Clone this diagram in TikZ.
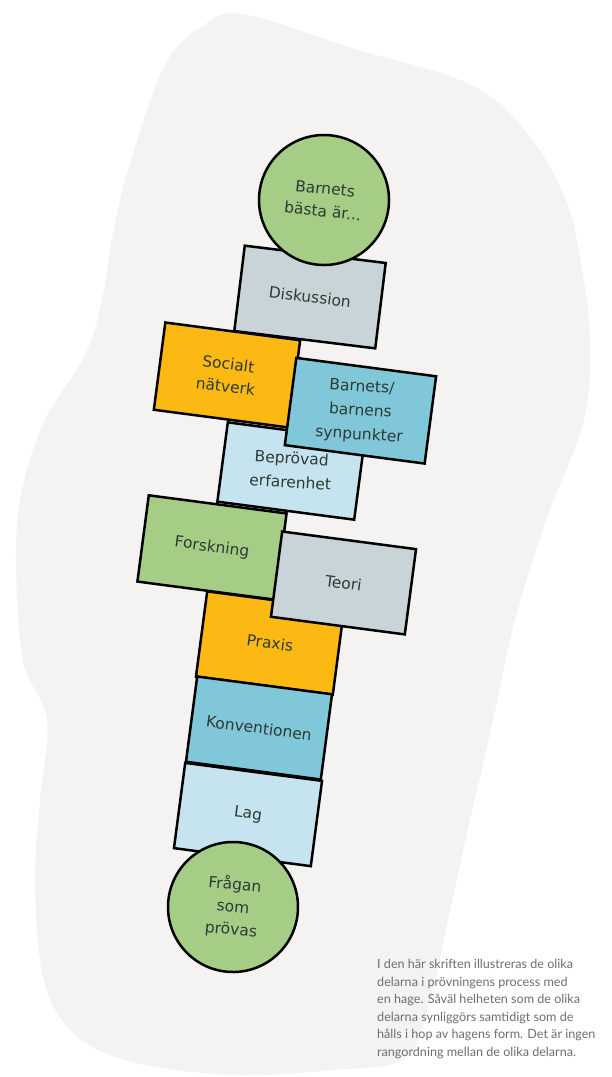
\documentclass[tikz,border=0pt]{standalone}
\usepackage{fontspec}
\setmainfont{DejaVu Sans}
\newfontfamily\capfont{Lato}
\usepackage{tikz}
\definecolor{blobgray}{HTML}{F4F3F2}
\definecolor{grn}{HTML}{A5CD86}
\definecolor{slate}{HTML}{C8D4D7}
\definecolor{ornge}{HTML}{FDB913}
\definecolor{midblue}{HTML}{7FC7D9}
\definecolor{paleblue}{HTML}{C5E4F0}
\definecolor{ink}{HTML}{2E3A33}
\definecolor{capgray}{HTML}{6E6E6E}
\tikzstyle{field} = [rectangle, minimum width=138pt, minimum height=86pt, inner sep=1pt, text centered, align=center, draw=black, line width=2.5pt, text=ink, font=\fontsize{15.5}{22.5}\selectfont]
\tikzstyle{stone} = [circle, minimum size=130pt, inner sep=1pt, draw=black, fill=grn, line width=2.5pt, align=center, text=ink, font=\fontsize{15.5}{22.5}\selectfont]
\tikzstyle{caption} = [anchor=north west, align=left, inner sep=0pt, text=capgray, font=\capfont\fontsize{12.6}{17.6}\selectfont]
\newcommand{\flatlines}[1]{\rotatebox{4}{\begin{tabular}{@{}c@{}}#1\end{tabular}}}

\begin{document}
\begin{tikzpicture}[x=1pt, y=-1pt, node distance=137pt]
\useasboundingbox (0,0) rectangle (612,1077);
\fill[white] (0,0) rectangle (612,1077);
\fill[blobgray] plot[smooth cycle, tension=0.6] coordinates {(242,14) (352,48) (469,84) (527,133) (566,200) (582,270) (590,340) (584,420) (548,515) (515,620) (493,720) (470,820) (448,920) (430,1000) (405,1058) (332,1070) (234,1075) (137,1063) (78,1037) (45,985) (35,887) (40,800) (47,720) (23,660) (16,560) (22,490) (45,420) (85,355) (102,300) (113,233) (129,167) (164,67) (200,28)};

\node (disk) [field, fill=slate, minimum width=142pt, rotate=-7] at (310,297) {Diskussion};
\node (bepr) [field, fill=paleblue, minimum height=80pt, rotate=-7.5, font=\fontsize{15.5}{24}\selectfont] at (291,471) {\flatlines{Beprövad\\erfarenhet}};
\node (praxis) [field, fill=ornge, rotate=-7.5] at (270,643) {Praxis};
\node (konv) [field, fill=midblue, minimum width=136pt, rotate=-7.5] at (259,728) {Konventionen};
\node (lag) [field, fill=paleblue, rotate=-7.5] at (248,814.5) {Lag};

\node (soc) [field, fill=ornge, minimum width=136pt, minimum height=88pt, rotate=-7.5] at (227,375) {Socialt\\nätverk};
\node (barn) [field, fill=midblue, minimum width=141pt, minimum height=88pt, rotate=-7.5, right of=soc, yshift=-18pt, font=\fontsize{15.5}{24}\selectfont] {\flatlines{Barnets/\\barnens\\synpunkter}};
\node (fors) [field, fill=grn, minimum width=139pt, minimum height=87pt, rotate=-7.5] at (212,547.5) {Forskning};
\node (teori) [field, fill=slate, minimum width=135pt, minimum height=86pt, rotate=-7.5, right of=fors, xshift=-2pt, yshift=-18pt] {Teori};

\node (topp) [stone, rotate=-6] at (324,200) {Barnets\\bästa är...};
\node (fraga) [stone, rotate=-5] at (233,907) {Frågan\\som\\prövas};

\node (cap) [caption] at (377,959) {I den här skriften illustreras de olika\\delarna i prövningens process med\\en hage. Såväl helheten som de olika\\delarna synliggörs samtidigt som de\\hålls i hop av hagens form. Det är ingen\\rangordning mellan de olika delarna.};
\end{tikzpicture}
\end{document}
